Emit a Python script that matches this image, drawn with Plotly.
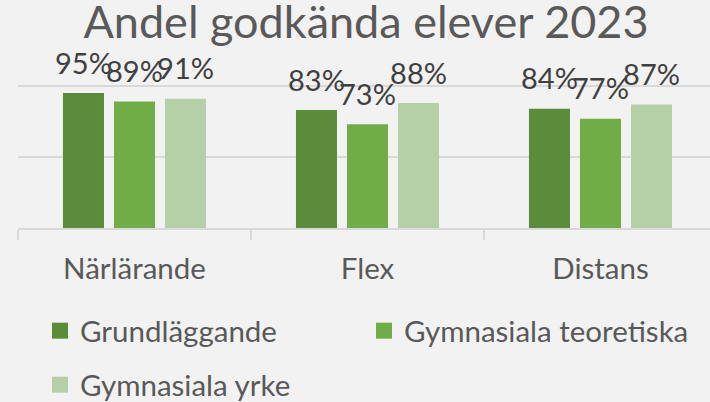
import plotly.graph_objects as go

categories = ["Närlärande", "Flex", "Distans"]
series_names = ["Grundläggande", "Gymnasiala teoretiska", "Gymnasiala yrke"]
grundlaggande = [95, 83, 84]
gymn_teoretiska = [89, 73, 77]
gymn_yrke = [91, 88, 87]
title_text = "Andel godkända elever 2023"

colors = ["#5A8C3A", "#70AD47", "#B5CFA7"]
legend_ids = ["legend", "legend", "legend2"]
FONT = "Lato, 'Open Sans', sans-serif"
GAP = 0.343

fig = go.Figure()
series = [grundlaggande, gymn_teoretiska, gymn_yrke]
for name, vals, col in zip(series_names, series, colors):
    fig.add_trace(go.Bar(
        x=categories, y=vals, name=name, showlegend=False,
        marker=dict(color=col, line=dict(width=0)),
        hoverinfo="skip",
    ))
# data labels, grouped like the bars
for name, vals in zip(series_names, series):
    fig.add_trace(go.Scatter(
        x=categories, y=vals, mode="markers+text", showlegend=False,
        text=[f"{v}%" for v in vals], textposition="top center",
        textfont=dict(family=FONT, size=29, color="#404040"),
        marker=dict(size=18, opacity=0), cliponaxis=False, hoverinfo="skip",
    ))
# legend entries (on a hidden overlay axis so they don't join the label grouping)
for name, col, lg in zip(series_names, colors, legend_ids):
    fig.add_trace(go.Scatter(
        x=[None], y=[None], mode="markers", name=name, legend=lg,
        xaxis="x2", yaxis="y2",
        marker=dict(symbol="square", size=18, color=col),
    ))

legend_common = dict(orientation="h", xref="container", yref="container",
                     xanchor="left", yanchor="top",
                     entrywidth=279, entrywidthmode="pixels",
                     font=dict(family=FONT, size=29.5, color="#595959"),
                     bgcolor="rgba(0,0,0,0)", traceorder="normal")

fig.update_layout(
    width=710, height=402,
    paper_bgcolor="#F2F2F2", plot_bgcolor="#F2F2F2",
    margin=dict(l=18, r=0, t=82, b=174, pad=0, autoexpand=False),
    barmode="group", bargap=GAP, bargroupgap=0.196,
    scattermode="group", scattergap=GAP,
    title=dict(text=title_text, x=0.5155, xanchor="center", xref="container",
               y=0.985, yanchor="top", yref="container",
               font=dict(family=FONT, size=45, color="#595959")),
    font=dict(family=FONT, color="#595959"),
    showlegend=True,
    legend=dict(x=40 / 710, y=1 - 305 / 402, **legend_common),
    legend2=dict(x=40 / 710, y=1 - 359 / 402, **legend_common),
    xaxis=dict(range=[-0.5, 2.47], showline=True, linecolor="#D9D9D9", linewidth=1.5,
               ticks="outside", tickson="boundaries", ticklen=10, tickcolor="#D9D9D9",
               tickwidth=1.5, showgrid=False, zeroline=False, ticklabelstandoff=14,
               tickfont=dict(family=FONT, size=29.5, color="#595959")),
    yaxis=dict(range=[0, 102.8], tickvals=[0, 50, 100], showticklabels=False,
               showgrid=True, gridcolor="#D9D9D9", gridwidth=1.5, zeroline=False,
               showline=False),
    xaxis2=dict(overlaying="x", visible=False),
    yaxis2=dict(overlaying="y", visible=False),
)

fig.write_html("out.html", config={"displayModeBar": False},
               post_script="document.body.style.margin='0';")
